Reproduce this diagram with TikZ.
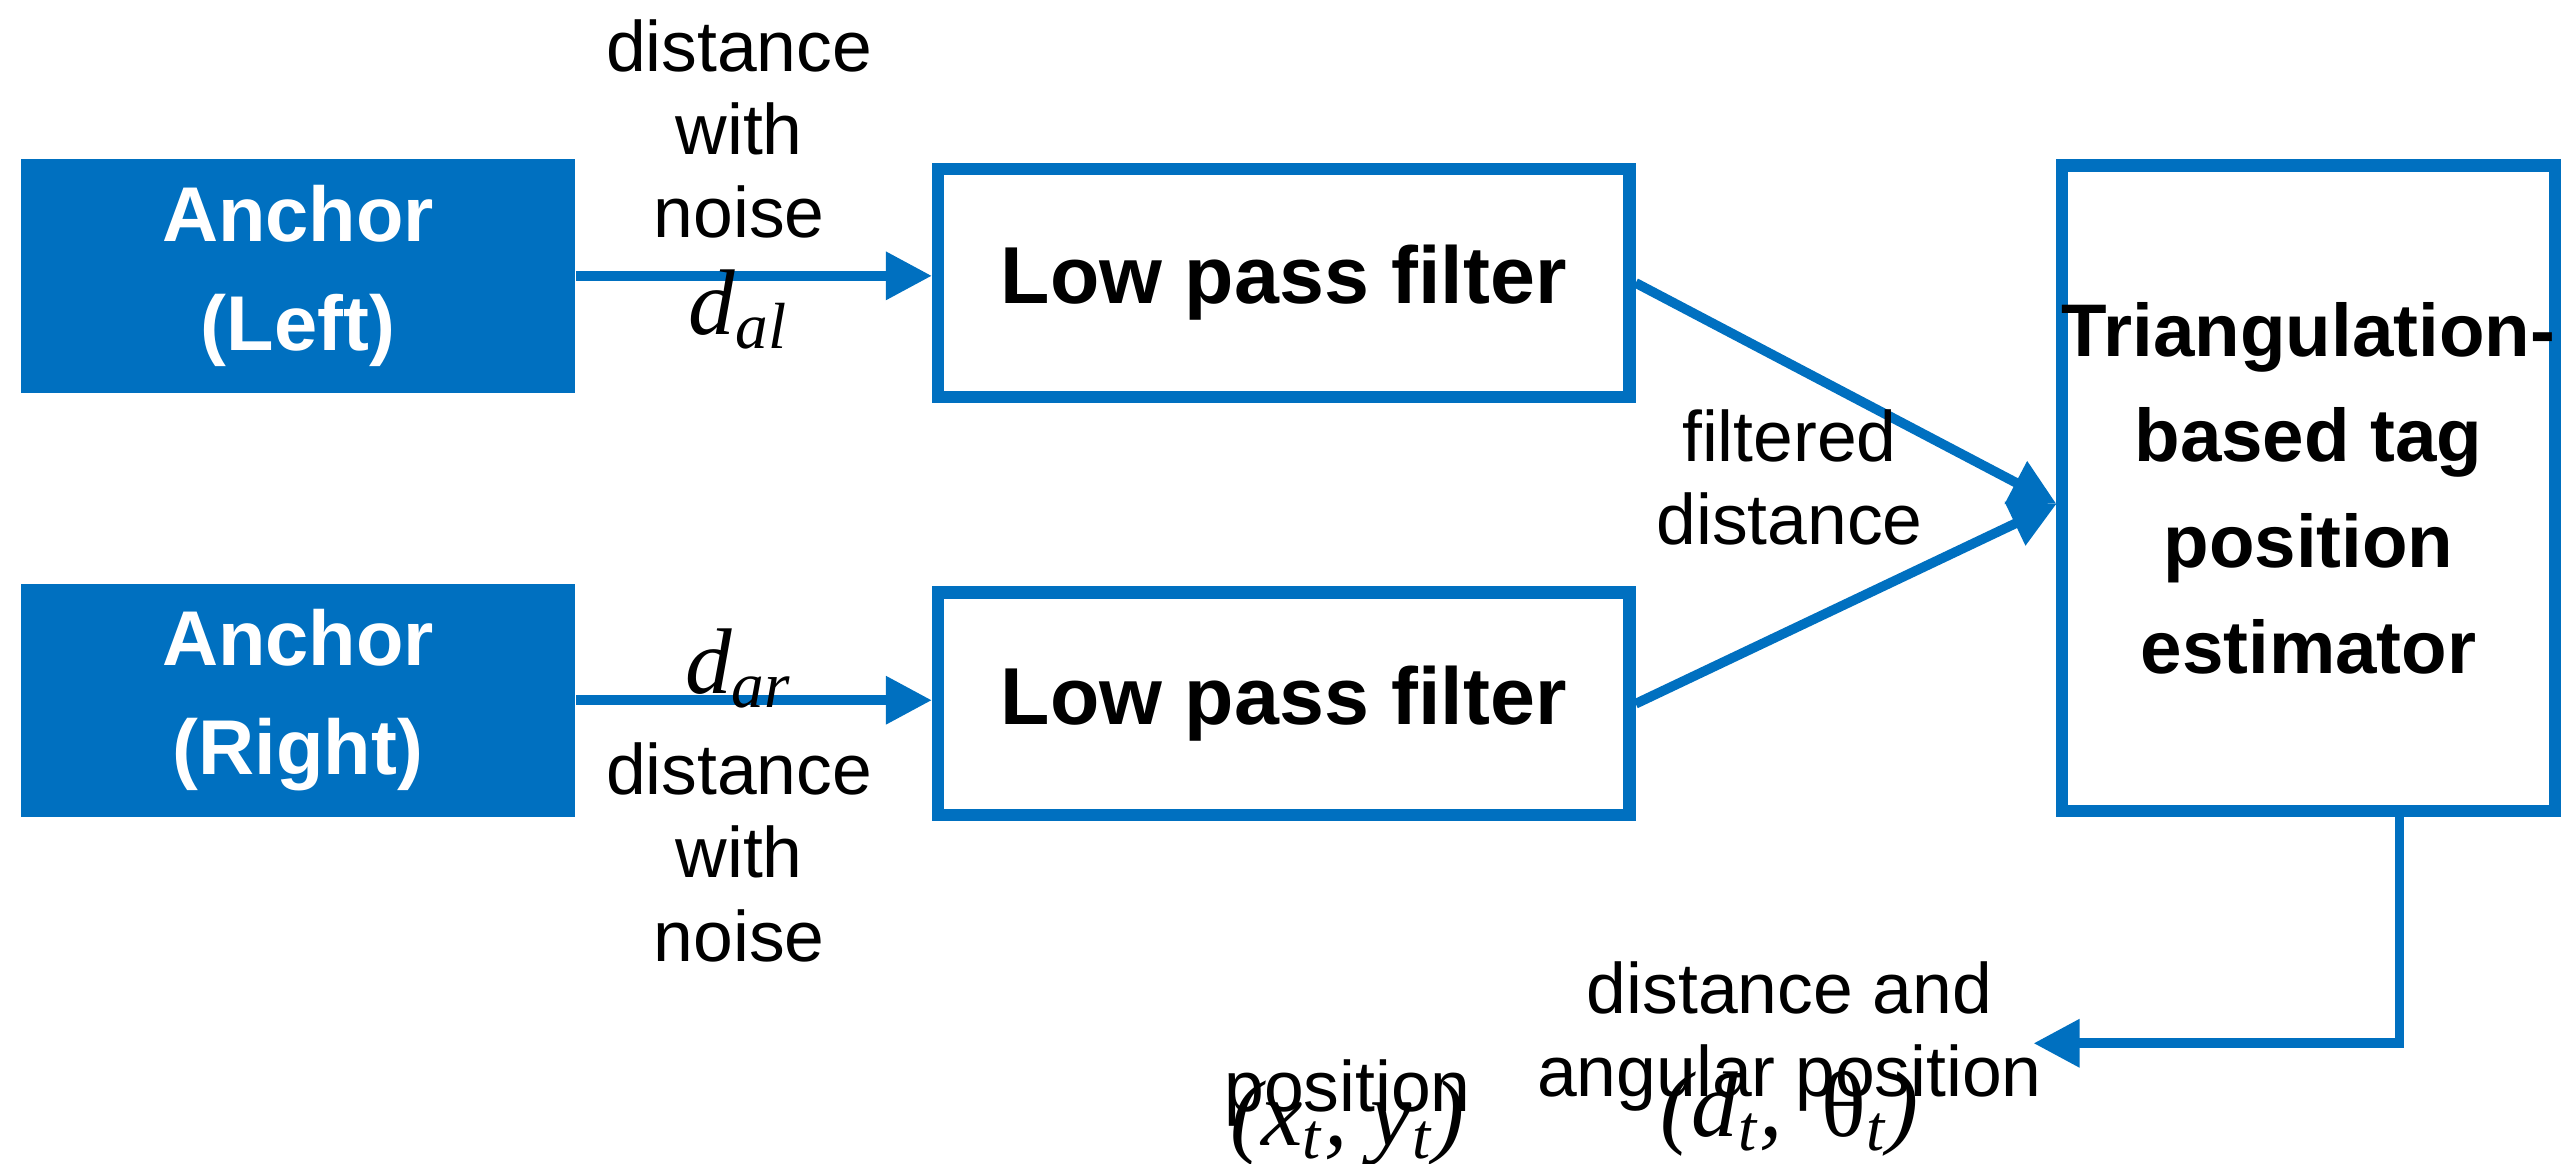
\documentclass[tikz,border=0pt]{standalone}
\usepackage{fontspec}
\setmainfont{Liberation Sans}
\newfontfamily\tms{Liberation Serif}
\usetikzlibrary{arrows.meta}
\definecolor{blu}{HTML}{0070C0}
\begin{document}
\begin{tikzpicture}[x=0.1mm,y=-0.1mm,
 anc/.style={fill=blu,text=white,font=\fontsize{12.5}{17.5}\selectfont\bfseries,align=center,inner sep=0},
 box/.style={draw=blu,line width=0.7mm,font=\fontsize{13}{17}\selectfont\bfseries,align=center,inner sep=0},
 arr/.style={draw=blu,line width=0.55mm,-{Triangle[length=2.6mm,width=2.6mm]}},
 lbl/.style={font=\fontsize{11.5}{13.4}\selectfont,align=center,inner sep=0},
 mth/.style={font=\tms\itshape\fontsize{15}{17}\selectfont,inner sep=0}]
\useasboundingbox (0,0) rectangle (1450,658);
\node[anc,minimum width=31.3mm,minimum height=13.2mm] (al) at (168.5,156) {Anchor\\(Left)};
\node[anc,minimum width=31.3mm,minimum height=13.2mm] (ar) at (168.5,396) {Anchor\\(Right)};
\node[box,minimum width=39.1mm,minimum height=12.9mm] (l1) at (726,160) {Low pass filter};
\node[box,minimum width=39.1mm,minimum height=12.6mm] (l2) at (726,398) {Low pass filter};
\node[box,minimum width=27.8mm,minimum height=36.5mm,font=\fontsize{12}{17}\selectfont\bfseries] (tr) at (1305.5,276) {Triangulation-\\based tag\\position\\estimator};
\draw[arr] (al.east) -- (l1.west|-al.east);
\draw[arr] (ar.east) -- (l2.west|-ar.east);
\coordinate (m) at (1163,285);
\draw[arr] (l1.east) -- (m);
\draw[arr] (l2.east) -- (m);
\coordinate (o) at (1150,590);
\draw[arr] (1357,462) |- (o);
\node[lbl] (t1) at (418,73) {distance\\with\\noise};
\node[mth] (t2) at (418,175) {d\textsubscript{al}};
\node[mth] (t3) at (418,378) {d\textsubscript{ar}};
\node[lbl] (t4) at (418,482) {distance\\with\\noise};
\node[lbl] (t5) at (1012,270) {filtered\\distance};
\node[lbl] (t6) at (1012,586) {distance and\\angular position};
\node[mth] (t7) at (1012,630) {(d\textsubscript{t}, \,\textup{θ}\textsubscript{t})};
\node[lbl] (t8) at (762,618) {position};
\node[mth] (t9) at (762,635) {(x\textsubscript{t}, y\textsubscript{t})};
\end{tikzpicture}
\end{document}
